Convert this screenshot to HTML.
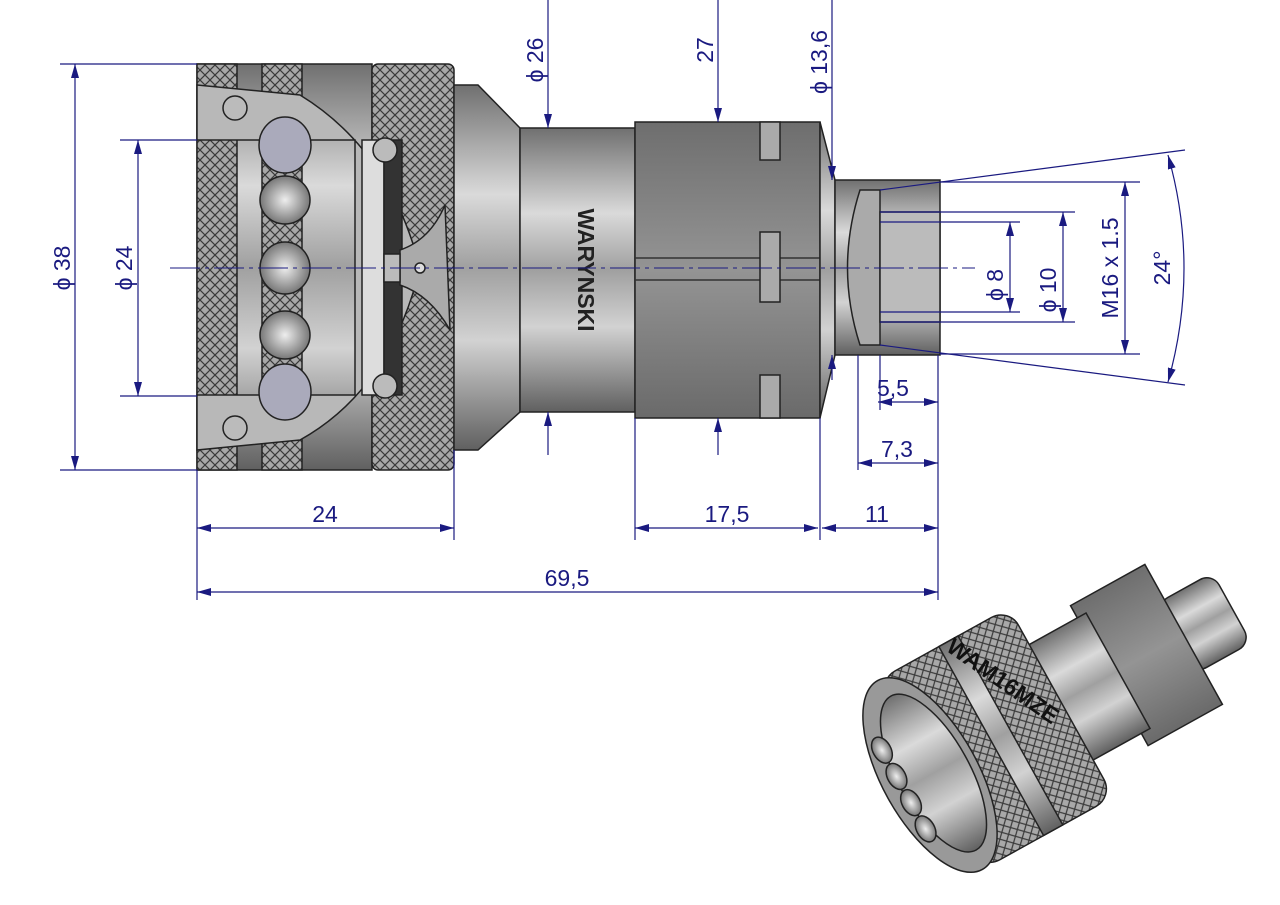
<!DOCTYPE html>
<html><head><meta charset="utf-8"><style>
html,body{margin:0;padding:0;background:#fff;}
svg{display:block;}
text{font-family:"Liberation Sans",sans-serif;fill:#1a1a80;font-size:23px;}
</style></head><body>
<svg width="1280" height="905" viewBox="0 0 1280 905" xmlns="http://www.w3.org/2000/svg">
<defs>
<linearGradient id="met" x1="0" y1="0" x2="0" y2="1">
<stop offset="0" stop-color="#707070"/><stop offset="0.3" stop-color="#dadada"/><stop offset="0.5" stop-color="#a0a0a0"/><stop offset="0.7" stop-color="#d2d2d2"/><stop offset="1" stop-color="#606060"/>
</linearGradient>
<linearGradient id="hex" x1="0" y1="0" x2="0" y2="1">
<stop offset="0" stop-color="#6e6e6e"/><stop offset="0.5" stop-color="#949494"/><stop offset="1" stop-color="#6a6a6a"/>
</linearGradient>
<pattern id="knurl" width="10" height="10" patternUnits="userSpaceOnUse">
<rect width="10" height="10" fill="#a8a8a8"/><path d="M0 0L10 10M10 0L0 10" stroke="#3a3a3a" stroke-width="1.2"/>
</pattern>
<radialGradient id="ball"><stop offset="0" stop-color="#eee"/><stop offset="1" stop-color="#777"/></radialGradient>
<marker id="ar" markerWidth="14" markerHeight="8" refX="14" refY="4" orient="auto-start-reverse" markerUnits="userSpaceOnUse"><path d="M0 0L14 4L0 8z" fill="#1a1a80"/></marker>
</defs>

<g stroke="#222" stroke-width="1.5">
<rect x="197" y="64" width="175" height="406" fill="url(#met)"/>
<rect x="197" y="64" width="40" height="406" fill="url(#knurl)"/>
<rect x="262" y="64" width="40" height="406" fill="url(#knurl)"/>
<rect x="372" y="64" width="82" height="406" rx="6" fill="url(#knurl)"/>
<path d="M197 85 L300 95 Q390 150 420 268 Q390 390 300 440 L197 450 L197 395 L355 395 L355 140 L197 140Z" fill="#b8b8b8"/>
<rect x="362" y="140" width="22" height="255" fill="#ddd"/>
<rect x="384" y="140" width="18" height="255" fill="#333"/>
<path d="M400 250 Q430 240 445 205 L450 330 Q430 295 400 285Z" fill="#aaa"/>
<rect x="384" y="254" width="16" height="28" fill="#bbb"/>
<circle cx="420" cy="268" r="5" fill="#ddd"/>
<circle cx="235" cy="108" r="12" fill="#bbb"/><circle cx="235" cy="428" r="12" fill="#bbb"/>
<circle cx="385" cy="150" r="12" fill="#bbb"/><circle cx="385" cy="386" r="12" fill="#bbb"/>
<ellipse cx="285" cy="145" rx="26" ry="28" fill="#aab"/>
<ellipse cx="285" cy="200" rx="25" ry="24" fill="url(#ball)"/>
<ellipse cx="285" cy="268" rx="25" ry="26" fill="url(#ball)"/>
<ellipse cx="285" cy="335" rx="25" ry="24" fill="url(#ball)"/>
<ellipse cx="285" cy="392" rx="26" ry="28" fill="#aab"/>
<path d="M454 85 L478 85 L520 128 L520 412 L478 450 L454 450Z" fill="url(#met)"/>
<rect x="520" y="128" width="115" height="284" fill="url(#met)"/>
<rect x="635" y="122" width="185" height="296" fill="url(#hex)"/>
<path d="M635 258 H820 M635 280 H820" stroke="#333"/>
<rect x="760" y="122" width="20" height="38" fill="#aaa"/>
<rect x="760" y="232" width="20" height="70" fill="#aaa"/>
<rect x="760" y="375" width="20" height="43" fill="#aaa"/>
<path d="M820 122 L835 180 L835 355 L820 418Z" fill="url(#met)"/>
<rect x="835" y="180" width="105" height="175" fill="url(#met)"/>
<path d="M860 190 Q835 268 860 345 L880 345 L880 190Z" fill="#aaa"/>
<rect x="880" y="212" width="60" height="110" fill="#bbb"/>
</g>
<text transform="translate(578,270) rotate(90)" text-anchor="middle" font-size="18" style="fill:#222;font-weight:bold">WARYNSKI</text>

<path d="M170 268 H975" stroke="#1a1a80" stroke-width="1" stroke-dasharray="30 5 4 5"/>

<g stroke="#1a1a80" stroke-width="1.2" fill="none">
<path d="M60 64 H197 M60 470 H197 M120 140 H197 M120 396 H197"/>
<path d="M75 64 V470" marker-start="url(#ar)" marker-end="url(#ar)"/>
<path d="M138 140 V396" marker-start="url(#ar)" marker-end="url(#ar)"/>
<path d="M548 0 V128" marker-end="url(#ar)"/><path d="M548 455 V412" marker-end="url(#ar)"/>
<path d="M718 0 V122" marker-end="url(#ar)"/><path d="M718 455 V418" marker-end="url(#ar)"/>
<path d="M832 0 V180" marker-end="url(#ar)"/><path d="M832 380 V355" marker-end="url(#ar)"/>
<path d="M880 222 H1020 M880 312 H1020 M880 212 H1075 M880 322 H1075 M940 182 H1140 M940 354 H1140"/>
<path d="M1010 222 V312" marker-start="url(#ar)" marker-end="url(#ar)"/>
<path d="M1063 212 V322" marker-start="url(#ar)" marker-end="url(#ar)"/>
<path d="M1125 182 V354" marker-start="url(#ar)" marker-end="url(#ar)"/>
<path d="M880 190 L1185 150 M880 345 L1185 385"/>
<path d="M1168 155 Q1200 268 1168 382" marker-start="url(#ar)" marker-end="url(#ar)"/>
<path d="M197 470 V600 M454 450 V540 M635 418 V540 M820 418 V540 M938 355 V600 M880 355 V410 M858 355 V470"/>
<path d="M878 402 H938" marker-start="url(#ar)" marker-end="url(#ar)"/>
<path d="M858 463 H938" marker-start="url(#ar)" marker-end="url(#ar)"/>
<path d="M197 528 H454" marker-start="url(#ar)" marker-end="url(#ar)"/>
<path d="M635 528 H818" marker-start="url(#ar)" marker-end="url(#ar)"/>
<path d="M822 528 H938" marker-start="url(#ar)" marker-end="url(#ar)"/>
<path d="M197 592 H938" marker-start="url(#ar)" marker-end="url(#ar)"/>
</g>
<text transform="translate(70,268) rotate(-90)" text-anchor="middle">ϕ 38</text>
<text transform="translate(132,268) rotate(-90)" text-anchor="middle">ϕ 24</text>
<text transform="translate(543,60) rotate(-90)" text-anchor="middle">ϕ 26</text>
<text transform="translate(713,50) rotate(-90)" text-anchor="middle">27</text>
<text transform="translate(827,62) rotate(-90)" text-anchor="middle">ϕ 13,6</text>
<text transform="translate(1003,285) rotate(-90)" text-anchor="middle">ϕ 8</text>
<text transform="translate(1056,290) rotate(-90)" text-anchor="middle">ϕ 10</text>
<text transform="translate(1118,268) rotate(-90)" text-anchor="middle">M16 x 1.5</text>
<text transform="translate(1170,268) rotate(-90)" text-anchor="middle">24°</text>
<text x="893" y="396" text-anchor="middle">5,5</text>
<text x="897" y="457" text-anchor="middle">7,3</text>
<text x="325" y="522" text-anchor="middle">24</text>
<text x="727" y="522" text-anchor="middle">17,5</text>
<text x="877" y="522" text-anchor="middle">11</text>
<text x="567" y="586" text-anchor="middle">69,5</text>

<g transform="translate(930,775) rotate(-29)" stroke="#222" stroke-width="1.5">
<rect x="280" y="-40" width="65" height="80" rx="14" fill="url(#met)"/>
<rect x="205" y="-80" width="85" height="160" fill="url(#hex)"/>
<rect x="140" y="-66" width="75" height="132" fill="url(#met)"/>
<rect x="0" y="-108" width="150" height="216" rx="20" fill="url(#knurl)"/>
<rect x="70" y="-108" width="22" height="216" fill="url(#met)"/>
<ellipse cx="0" cy="0" rx="48" ry="108" fill="#999"/>
<ellipse cx="4" cy="0" rx="36" ry="88" fill="url(#met)"/>
<ellipse cx="-30" cy="-45" rx="9" ry="14" fill="url(#ball)"/>
<ellipse cx="-30" cy="-15" rx="9" ry="14" fill="url(#ball)"/>
<ellipse cx="-30" cy="15" rx="9" ry="14" fill="url(#ball)"/>
<ellipse cx="-30" cy="45" rx="9" ry="14" fill="url(#ball)"/>
</g>
<text transform="translate(945,650) rotate(35)" font-size="14" style="fill:#111;font-weight:bold">WAM16MZE</text>
</svg>
</body></html>
